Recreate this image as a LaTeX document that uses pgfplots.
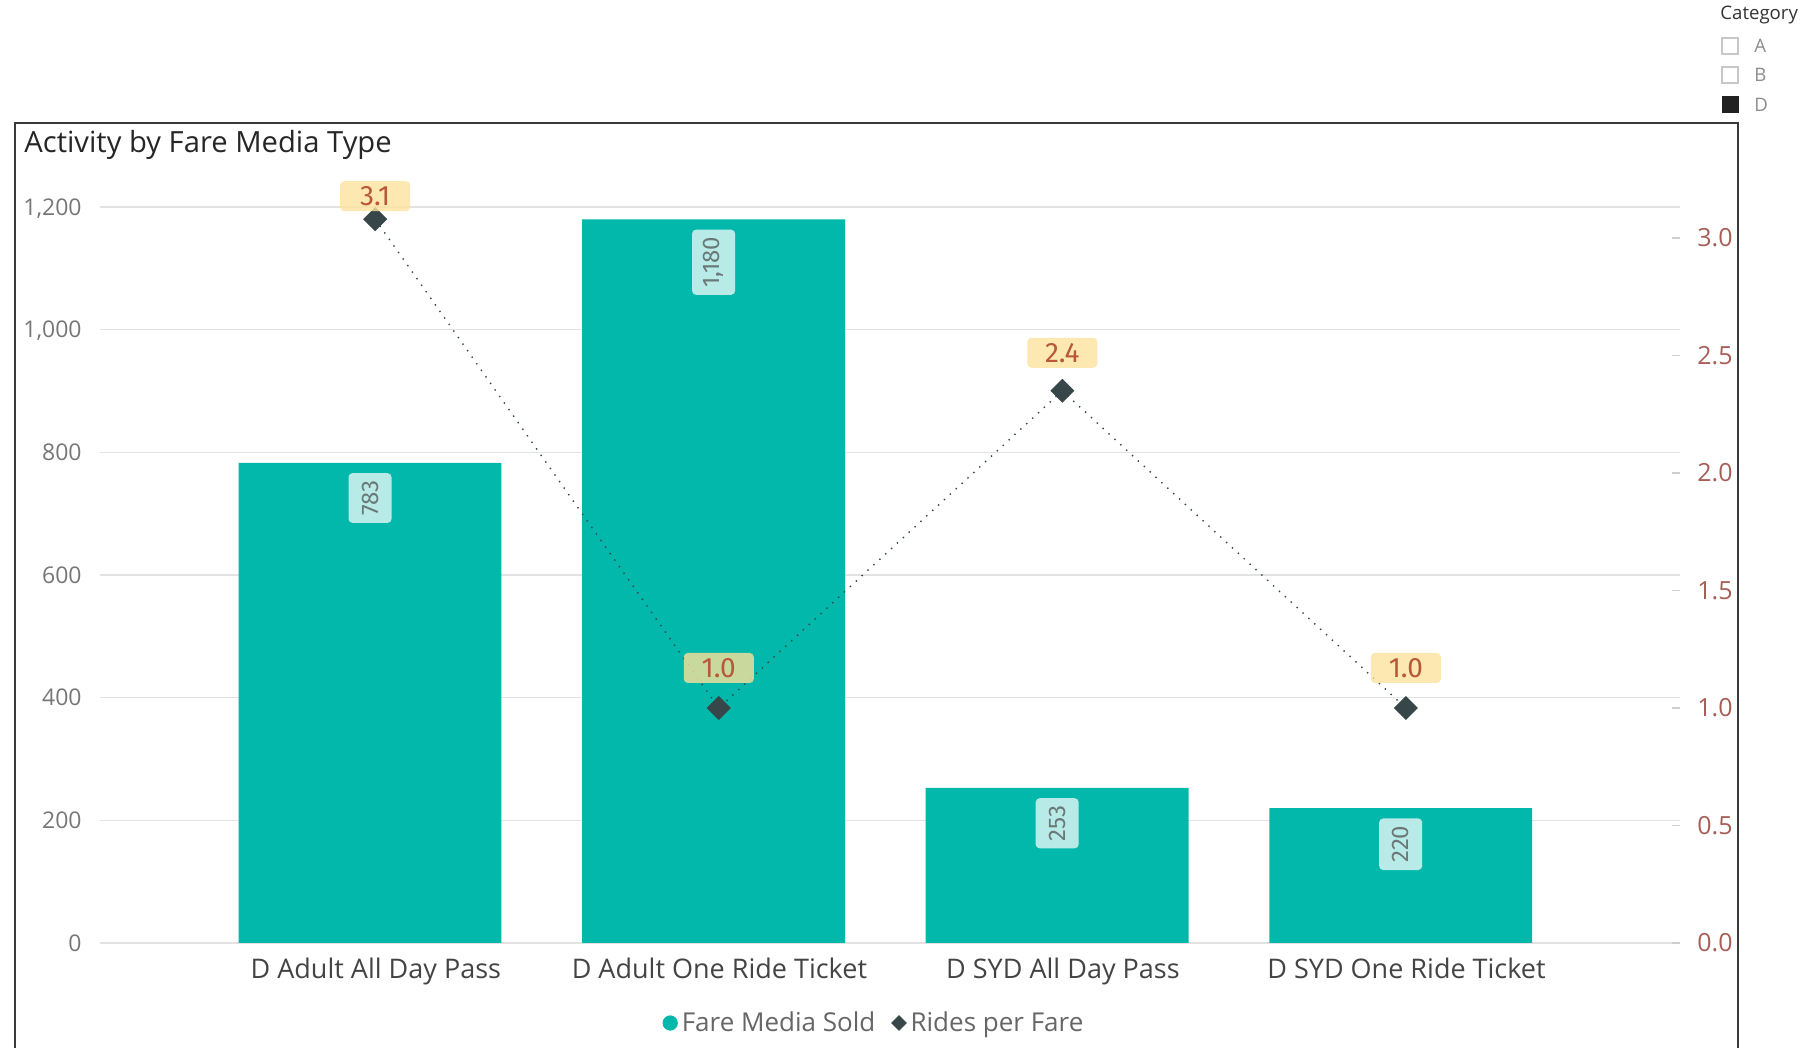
\documentclass[border=0pt]{standalone}
\usepackage{pgfplots}
\pgfplotsset{compat=1.18}
\usepackage{pgfplotstable}
\usepackage{fontspec}
\setmainfont{Open Sans}
\newfontfamily\dinfont{Fira Sans}
\definecolor{teal1}{HTML}{01B8AA}
\definecolor{mark1}{HTML}{374649}
\definecolor{gridc}{HTML}{E2E2E2}
\definecolor{ticklab}{HTML}{777777}
\definecolor{xlab}{HTML}{444444}
\definecolor{rlab}{HTML}{A65E57}
\definecolor{dlab}{HTML}{B8573A}
\definecolor{dbox}{HTML}{FBE29C}
\definecolor{blab}{HTML}{6A7878}
\definecolor{framec}{HTML}{3A3A3A}
\definecolor{legtext}{HTML}{666666}
\definecolor{rtick}{HTML}{CFCFCF}
\definecolor{slbox}{HTML}{C8C8C8}
\pgfplotsset{/pgf/number format/assume math mode=true, /pgf/number format/1000 sep={,}}

\pgfplotstableread{
x y
0 783
1 1180
2 253
3 220
}\faretable
\pgfplotstableread{
x y lab dy
0.015 3.08 3.1 11.5
1.015 1.00 1.0 20
2.015 2.35 2.4 19
3.015 1.00 1.0 20
}\ridestable

\begin{document}
\begin{tikzpicture}
\useasboundingbox (0pt,0pt) rectangle (902pt,524pt);
\draw[framec, line width=1pt] (7.5pt,-3pt) -- (7.5pt,462.5pt) -- (869pt,462.5pt) -- (869pt,-3pt);
\node[anchor=base west, inner sep=0pt, text=black!85, font=\fontsize{14.6}{16}\selectfont] at (12pt,447.5pt) {Activity by Fare Media Type};
% slicer
\node[anchor=west, inner sep=0pt, font=\fontsize{9.3}{11}\selectfont, text=black!80] at (860pt,516.5pt) {Category};
\draw[slbox, line width=0.8pt] (861pt,497pt) rectangle (869pt,505pt);
\draw[slbox, line width=0.8pt] (861pt,482.5pt) rectangle (869pt,490.5pt);
\fill[black!87] (860.75pt,467.25pt) rectangle (869.25pt,475.75pt);
\node[anchor=west, inner sep=0pt, font=\fontsize{9.3}{11}\selectfont, text=black!45] at (877pt,501pt) {A};
\node[anchor=west, inner sep=0pt, font=\fontsize{9.3}{11}\selectfont, text=black!45] at (877pt,486.5pt) {B};
\node[anchor=west, inner sep=0pt, font=\fontsize{9.3}{11}\selectfont, text=black!45] at (877pt,471.5pt) {D};

\begin{axis}[
  at={(50pt,52.5pt)}, anchor=south west, scale only axis,
  width=790pt, height=368pt,
  xmin=-0.786, xmax=3.813, ymin=0, ymax=1200,
  axis line style={draw=none},
  major tick length=0pt,
  ymajorgrids, grid style={gridc, line width=0.8pt},
  ytick={0,200,400,600,800,1000,1200},
  scaled y ticks=false,
  yticklabel style={font=\fontsize{11.5}{13}\selectfont, text=ticklab, anchor=base east, inner sep=0pt, xshift=-9pt, yshift=-4.1pt},
  xtick={0,1,2,3},
  xticklabels={D Adult All Day Pass, D Adult One Ride Ticket, D SYD All Day Pass, D SYD One Ride Ticket},
  xticklabel style={font=\fontsize{13.5}{15}\selectfont, text=xlab, anchor=base, inner sep=0pt, yshift=-18pt, xshift=2.9pt},
  clip=false,
]
\addplot[ybar, bar width=0.765, bar shift=0pt, fill=teal1, draw=none,
  nodes near coords,
  every node near coord/.append style={yshift=-5pt, rotate=90, anchor=east,
    font=\dinfont\fontsize{12}{14}\selectfont, text=blab, fill=white, fill opacity=0.72,
    text opacity=1, rounded corners=2pt, inner xsep=3.6pt, inner ysep=0pt,
    minimum height=21.5pt, minimum width=24pt}
] table[x=x,y=y] \faretable;
\end{axis}

\begin{axis}[
  at={(50pt,52.5pt)}, anchor=south west, scale only axis,
  width=790pt, height=368pt,
  xmin=-0.786, xmax=3.813, ymin=0, ymax=3.132,
  axis x line=none, axis y line*=right,
  axis line style={draw=none},
  ytick={0,0.5,1,1.5,2,2.5,3},
  yticklabel style={/pgf/number format/.cd, fixed, fixed zerofill, precision=1, /tikz/.cd,
    font=\fontsize{12.5}{14}\selectfont, text=rlab, anchor=base west, inner sep=0pt, xshift=8.5pt, yshift=-4.4pt},
  tick align=inside, major tick length=4pt, tick style={draw=rtick, line width=0.7pt},
  clip=false,
  legend style={at={(0.4905,-0.1087)}, anchor=center, draw=none, fill=none,
    font=\fontsize{13}{15}\selectfont, text=legtext,
    /tikz/every even column/.append style={column sep=6pt}},
  legend columns=2,
]
\addlegendimage{legend image code/.code={\fill[teal1] (0pt,0pt) circle (3.6pt);}}
\addlegendentry{Fare Media Sold}
\addlegendimage{legend image code/.code={\fill[mark1] (-3.6pt,0pt) -- (0pt,3.6pt) -- (3.6pt,0pt) -- (0pt,-3.6pt) -- cycle;}}
\addlegendentry{Rides per Fare}
\addplot[forget plot, color=mark1, line width=0.7pt, dash pattern=on 0.7pt off 3.3pt,
  mark=square*, mark size=3.9pt, mark options={solid, rotate=45, fill=mark1, draw=none},
  point meta=explicit symbolic, nodes near coords,
  visualization depends on={\thisrow{dy} \as \dy},
  every node near coord/.append style={anchor=center, yshift={\dy pt},
    font=\dinfont\fontsize{14}{16}\selectfont, text=dlab, fill=dbox, fill opacity=0.8,
    text opacity=1, rounded corners=2pt, minimum width=35pt, minimum height=15pt, inner sep=0pt}
] table[x=x, y=y, meta=lab] \ridestable;
\end{axis}
\end{tikzpicture}
\end{document}
